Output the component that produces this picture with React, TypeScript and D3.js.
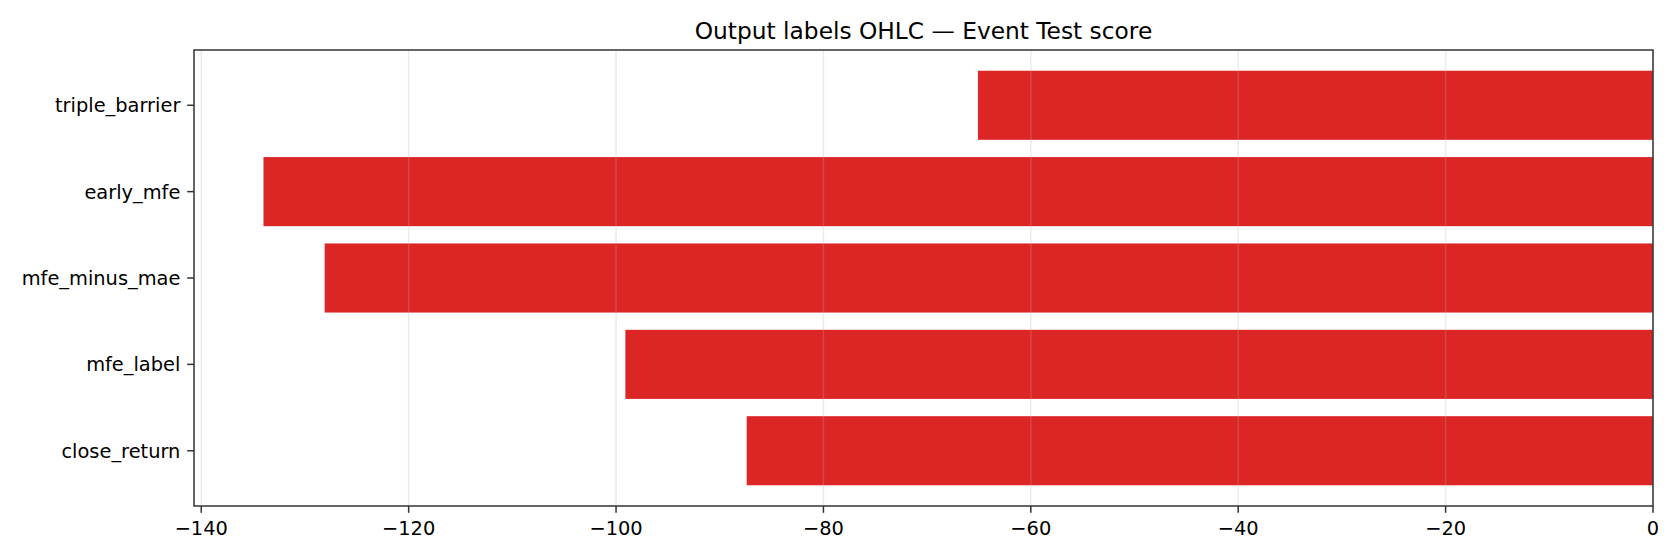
import React, { useEffect, useRef } from 'react';
import * as d3 from 'd3';

const labels = ['close_return', 'mfe_label', 'mfe_minus_mae', 'early_mfe', 'triple_barrier'];
const scores = [-87.4, -99.1, -128.1, -134.0, -65.1];
const xTicks = [-140, -120, -100, -80, -60, -40, -20, 0];

const title = 'Output labels OHLC — Event Test score';

const App: React.FC = () => {
  const chartRef = useRef<SVGSVGElement | null>(null);

  useEffect(() => {
    if (!chartRef.current) return;
    const svg = d3.select(chartRef.current);
    svg.selectAll('*').remove();

    const width = 1680;
    const height = 560;
    const left = 194;
    const right = 1653;
    const top = 50;
    const bottom = 506;
    const font = 'DejaVu Sans, sans-serif';
    const tickFont = 19.4;
    const tickLen = 6.8;

    svg.attr('width', width).attr('height', height);

    const minVal = d3.min(scores) as number;
    const x = d3.scaleLinear().domain([minVal * 1.05, 0]).range([left, right]);
    const y = d3.scaleLinear().domain([-0.64, labels.length - 1 + 0.64]).range([bottom, top]);

    svg.append('rect').attr('width', width).attr('height', height).attr('fill', '#ffffff');

    // bars
    svg.append('g')
      .selectAll('rect')
      .data(scores)
      .enter()
      .append('rect')
      .attr('x', (d) => x(d))
      .attr('width', (d) => x(0) - x(d))
      .attr('y', (d, i) => y(i + 0.4))
      .attr('height', (d, i) => y(i - 0.4) - y(i + 0.4))
      .attr('fill', '#dc2626');

    // grid on top of bars
    svg.append('g')
      .selectAll('line')
      .data(xTicks)
      .enter()
      .append('line')
      .attr('x1', (d) => x(d))
      .attr('x2', (d) => x(d))
      .attr('y1', top)
      .attr('y2', bottom)
      .attr('stroke', '#b0b0b0')
      .attr('stroke-opacity', 0.25)
      .attr('stroke-width', 1.5);

    // frame
    svg.append('rect')
      .attr('x', left)
      .attr('y', top)
      .attr('width', right - left)
      .attr('height', bottom - top)
      .attr('fill', 'none')
      .attr('stroke', '#333333')
      .attr('stroke-width', 1.5);

    // x axis
    const xAxis = svg.append('g');
    xAxis.selectAll('line')
      .data(xTicks)
      .enter()
      .append('line')
      .attr('x1', (d) => x(d))
      .attr('x2', (d) => x(d))
      .attr('y1', bottom)
      .attr('y2', bottom + tickLen)
      .attr('stroke', '#333333')
      .attr('stroke-width', 1.5);
    xAxis.selectAll('text')
      .data(xTicks)
      .enter()
      .append('text')
      .attr('x', (d) => x(d))
      .attr('y', 534.5)
      .attr('text-anchor', 'middle')
      .attr('font-family', font)
      .attr('font-size', tickFont)
      .attr('fill', '#000000')
      .text((d) => d3.format('d')(d));

    // y axis
    const yAxis = svg.append('g');
    yAxis.selectAll('line')
      .data(labels)
      .enter()
      .append('line')
      .attr('x1', left - tickLen)
      .attr('x2', left)
      .attr('y1', (d, i) => y(i))
      .attr('y2', (d, i) => y(i))
      .attr('stroke', '#333333')
      .attr('stroke-width', 1.5);
    yAxis.selectAll('text')
      .data(labels)
      .enter()
      .append('text')
      .attr('x', left - 2 * tickLen)
      .attr('y', (d, i) => y(i))
      .attr('dy', '0.36em')
      .attr('text-anchor', 'end')
      .attr('font-family', font)
      .attr('font-size', tickFont)
      .attr('fill', '#000000')
      .text((d) => d);

    svg.append('text')
      .attr('x', (left + right) / 2)
      .attr('y', 38.5)
      .attr('text-anchor', 'middle')
      .attr('font-family', font)
      .attr('font-size', 23.3)
      .attr('fill', '#000000')
      .text(title);
  }, []);

  return <svg ref={chartRef} style={{ position: 'absolute', left: 0, top: 0, display: 'block' }}></svg>;
};

export default App;
